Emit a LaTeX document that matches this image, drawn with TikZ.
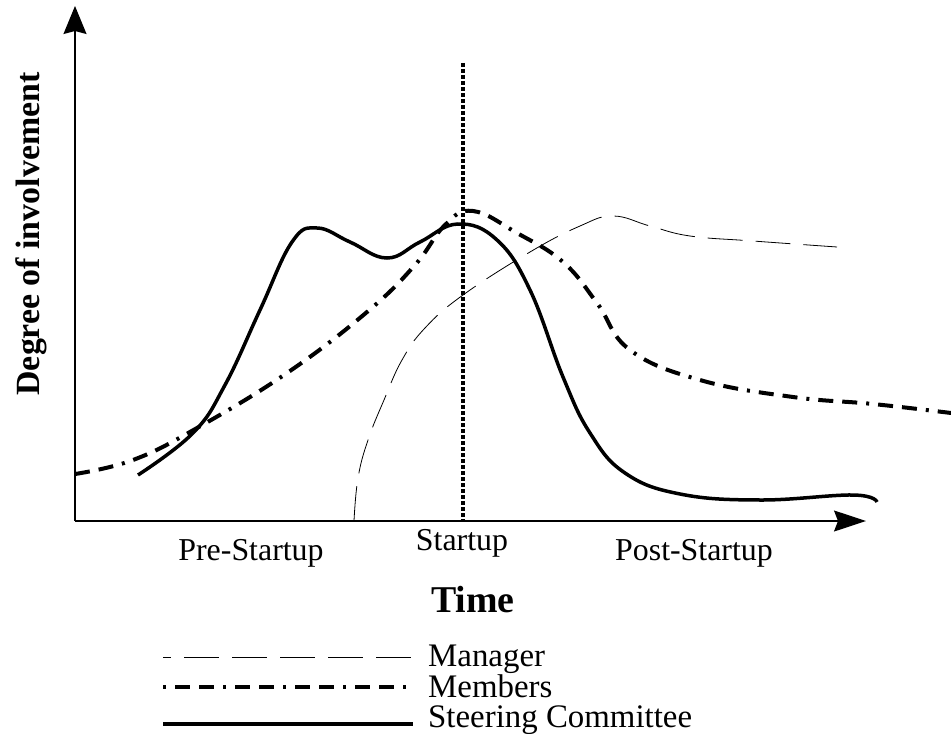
\documentclass[tikz,border=0pt]{standalone}
\usepackage{fontspec}
\setmainfont{Liberation Serif}
\usetikzlibrary{arrows.meta,positioning}

\begin{document}
\begin{tikzpicture}[x=1bp,y=-1bp,
    axis/.style={line width=1.2bp,-{Stealth[length=28bp,width=23bp,inset=3bp]}},
    xaxis/.style={line width=1.2bp,-{Stealth[length=32bp,width=21bp,inset=4bp]}},
    manager/.style={line width=0.8bp,dash pattern=on 35bp off 13bp},
    members/.style={line width=4bp,dash pattern=on 15bp off 9bp on 15bp off 9bp on 3bp off 9bp},
    steering/.style={line width=3.5bp},
    startline/.style={line width=4.5bp,dash pattern=on 4bp off 2bp},
    lbl/.style={font=\fontsize{32}{36}\selectfont,inner sep=0pt},
    title/.style={font=\fontsize{38}{42}\selectfont\bfseries,inner sep=0pt},
    legtext/.style={font=\fontsize{33}{36}\selectfont,inner sep=0pt,anchor=base west}]
    \useasboundingbox (0,0) rectangle (951,734);

    % axes
    \coordinate (O) at (75,521);
    \coordinate (ytip) at (75,6);
    \coordinate (xtip) at (866,521);
    \draw[axis] (O) -- (ytip);
    \draw[xaxis] (O) -- (xtip);

    % startup marker
    \coordinate (sttop) at (463,63);
    \draw[startline] (sttop) -- (sttop |- O);

    % curves
    \draw[manager] plot[smooth,tension=0.7] coordinates {
        (354,521) (358,478) (368,440) (384,400) (402,360) (425,328)
        (463,295) (530,252) (580,226) (613,216) (650,226)
        (690,236) (753,241) (837,247)};
    \draw[members] plot[smooth,tension=0.7] coordinates {
        (75,474) (133,460) (197,428) (287,373)
        (367,312) (415,265) (445,225) (473,211)
        (517,233) (563,262) (597,303) (630,350)
        (700,380) (793,397) (873,404) (951,413)};
    \draw[steering] plot[smooth,tension=0.7] coordinates {
        (138,475) (193,433) (225,385) (260,310)
        (292,242) (317,228) (350,242) (387,258) (420,242)
        (458,224) (497,240) (530,290) (563,377) (590,433)
        (625,473) (680,494) (760,500) (853,495) (877,502)};

    % labels
    \node[title,rotate=90,font=\fontsize{34}{38}\selectfont\bfseries] (ylab) at (31,234) {Degree of involvement};
    \node[lbl] (pre) at (251,553) {Pre-Startup};
    \node[lbl] (start) at (462,543) {Startup};
    \node[lbl] (post) at (694,553) {Post-Startup};
    \node[title] (time) at (473,600) {Time};

    % legend
    \node[legtext] (mgr) at (428,666) {Manager};
    \node[legtext] (mem) at (428,697) {Members};
    \node[legtext] (stc) at (428,727) {Steering Committee};
    \coordinate (mgrL) at (163,657);
    \coordinate (memL) at (163,687);
    \coordinate (stcL) at (163,724);
    \draw[manager,dash phase=27bp] (mgrL) -- (mgrL -| 411,0);
    \draw[members,dash phase=48bp] (memL) -- (memL -| 412,0);
    \draw[steering] (stcL) -- (stcL -| 413,0);
\end{tikzpicture}
\end{document}
